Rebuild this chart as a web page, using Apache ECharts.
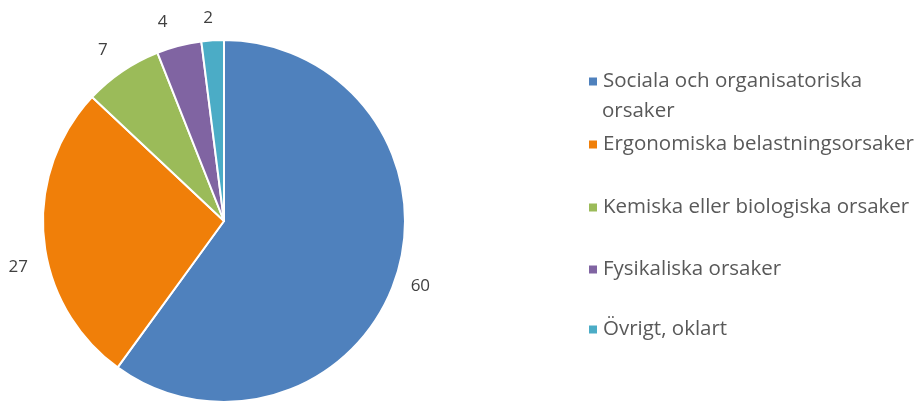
<!DOCTYPE html>
<html style="height: 100%">
<head>
    <meta charset="UTF-8">
    <script src="https://cdn.jsdelivr.net/npm/echarts@6/dist/echarts.min.js"></script>
</head>
<body style="margin: 0; background-color: #FFFFFF">
    <div id="paint" style="width: 922px; height: 416px"></div>
<script>
    // data
    var categories = ['Sociala och organisatoriska', 'Ergonomiska belastningsorsaker', 'Kemiska eller biologiska orsaker', 'Fysikaliska orsaker', 'Övrigt, oklart'];
    var values = [60, 27, 7, 4, 2];
    var colors = ['#4F81BD', '#F07F09', '#9BBB59', '#8064A2', '#4BACC6'];

    var font = '"Open Sans", Lato, sans-serif';
    var legendTops = [66, 129, 192, 254, 314];
    // nudge labels to where Excel's best fit put them
    var labelNudge = [[0, 6], [-6, 28], [-1, -18], [28, -27], [6, -12]];

    var legends = categories.map(function (name, i) {
        return {
            data: [name],
            left: 582,
            top: legendTops[i],
            icon: 'rect',
            itemWidth: 10,
            itemHeight: 10,
            itemGap: 8,
            selectedMode: false,
            textStyle: {fontSize: 20.5, color: '#595959', fontFamily: font}
        };
    });

    var chart = echarts.init(document.getElementById('paint'));
    chart.setOption({
        animation: false,
        color: colors,
        legend: legends,
        graphic: [{
            type: 'text',
            left: 602,
            top: 101,
            style: {text: 'orsaker', fontSize: 20.5, fill: '#595959', fontFamily: font}
        }],
        series: [{
            type: 'pie',
            center: [224, 221],
            radius: 181,
            startAngle: 90,
            clockwise: true,
            itemStyle: {borderColor: '#FFFFFF', borderWidth: 2},
            label: {
                show: true,
                position: 'outside',
                fontSize: 17,
                color: '#404040',
                fontFamily: font,
                formatter: '{c}'
            },
            labelLine: {show: false, length: 10, length2: 0},
            labelLayout: function (params) {
                var n = labelNudge[params.dataIndex];
                return {dx: n[0], dy: n[1]};
            },
            emphasis: {disabled: true},
            data: categories.map(function (name, i) {
                return {name: name, value: values[i]};
            })
        }]
    });
</script>
</body>
</html>
